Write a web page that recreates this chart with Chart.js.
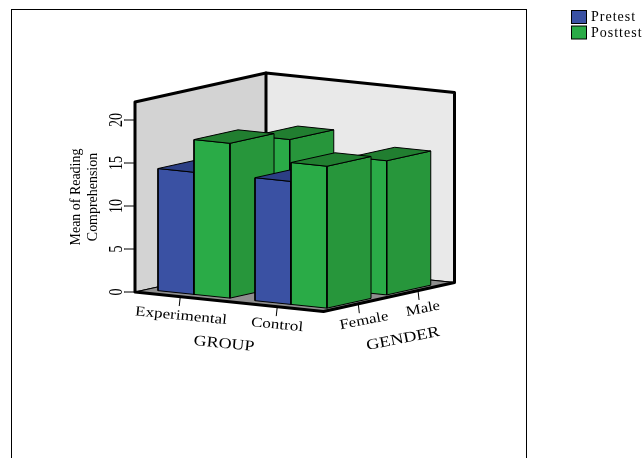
<!DOCTYPE html>
<html>
<head>
<meta charset="utf-8">
<style>
html, body { margin: 0; padding: 0; background: #fff; overflow: hidden; }
canvas { display: block; }
</style>
<script src="https://cdn.jsdelivr.net/npm/chart.js@4/dist/chart.umd.js"></script>
</head>
<body>
<canvas id="myChart" width="642" height="458"></canvas>
<script>
// values, index 0 = Experimental, 1 = Control
var groups = ['Experimental', 'Control'];
var genders = ['Female', 'Male'];
var seriesNames = ['Pretest', 'Posttest'];
var pretestFemale = [14.2, 14.3];
var pretestMale = [13.5, 13.5];
var posttestFemale = [18.0, 16.5];
var posttestMale = [16.9, 15.6];
var valueTicks = [0, 5, 10, 15, 20];

var blue = { front: '#3a51a3', side: '#31458c', top: '#2c3f85' };
var green = { front: '#2aab47', side: '#27963b', top: '#217e30' };

// oblique projection of (group, gender, value) on to the page
var origin = [135, 292];
var uDir = [188.5, 19.5];
var vDir = [131, -29];
var pxPerUnit = 8.6;
var wallTop = 22.1;

function project(u, v, h) {
    return {
        x: origin[0] + uDir[0] * u + vDir[0] * v,
        y: origin[1] + uDir[1] * u + vDir[1] * v - pxPerUnit * h
    };
}

var sets = [];
function poly(points, fillColor, lineWidth, lineColor) {
    sets.push({
        data: points.concat([points[0]]),
        showLine: true,
        pointRadius: 0,
        fill: 'shape',
        backgroundColor: fillColor,
        borderColor: lineColor || '#000',
        borderWidth: lineWidth,
        borderJoinStyle: 'round',
        clip: false
    });
}
function line(points, lineWidth) {
    sets.push({
        data: points,
        showLine: true,
        pointRadius: 0,
        fill: false,
        borderColor: '#000',
        borderWidth: lineWidth,
        borderCapStyle: 'round',
        borderJoinStyle: 'round',
        clip: false
    });
}

function bar(u, v, value, colors) {
    var du = 0.191, dv = 0.336;
    poly([project(u, v, 0), project(u + du, v, 0), project(u + du, v, value), project(u, v, value)], colors.front, 1);
    poly([project(u + du, v, 0), project(u + du, v + dv, 0), project(u + du, v + dv, value), project(u + du, v, value)], colors.side, 1);
    poly([project(u, v, value), project(u + du, v, value), project(u + du, v + dv, value), project(u, v + dv, value)], colors.top, 1);
}

// walls and floor
poly([project(0, 0, 0), project(0, 1, 0), project(0, 1, wallTop), project(0, 0, wallTop)], '#d3d3d3', 1);
poly([project(0, 1, 0), project(1, 1, 0), project(1, 1, wallTop), project(0, 1, wallTop)], '#e9e9e9', 1);
poly([project(0, 0, 0), project(1, 0, 0), project(1, 1, 0), project(0, 1, 0)], '#8f8f8f', 1);
line([project(0, 0, 0), project(0, 0, wallTop), project(0, 1, wallTop), project(1, 1, wallTop), project(1, 1, 0), project(1, 0, 0), project(0, 0, 0)], 3);
line([project(0, 1, 0), project(0, 1, wallTop)], 3);

// bars back row first so the nearer ones cover them
var rows = [[pretestMale, posttestMale, 0.5435], [pretestFemale, posttestFemale, 0.0875]];
rows.forEach(function (row) {
    groups.forEach(function (g, i) {
        var u = 0.0612 + i * 0.5146;
        bar(u, row[2], row[0][i], blue);
        bar(u + 0.191, row[2], row[1][i], green);
    });
});

// tick marks
valueTicks.forEach(function (t) {
    var p = project(0, 0, t);
    line([{ x: p.x - 11, y: p.y }, p], 1);
});
groups.forEach(function (g, i) {
    var p = project(0.0612 + i * 0.5146 + 0.179, 0, 0);
    line([p, { x: p.x - 1, y: p.y + 9 }], 1);
});
genders.forEach(function (g, i) {
    var p = project(1, 0.0875 + i * 0.456 + 0.178, 0);
    line([p, { x: p.x + 1, y: p.y + 9 }], 1);
});

function label(ctx, text, x, y, angle, size, sx) {
    ctx.save();
    ctx.translate(x, y);
    ctx.rotate(angle * Math.PI / 180);
    ctx.scale(sx || 1, 1);
    ctx.font = size + 'px "Liberation Serif"';
    ctx.fillStyle = '#000';
    ctx.textAlign = 'center';
    ctx.textBaseline = 'middle';
    ctx.fillText(text, 0, 0);
    ctx.restore();
}

var textPlugin = {
    id: 'textPlugin',
    afterDraw: function (chart) {
        var ctx = chart.ctx;
        // frame round the chart
        ctx.strokeStyle = '#000';
        ctx.lineWidth = 1;
        ctx.strokeRect(11.5, 9.5, 515, 460);

        valueTicks.forEach(function (t) {
            var p = project(0, 0, t);
            label(ctx, String(t), 117.5, p.y, -90, 19, 0.74);
        });
        label(ctx, 'Mean of Reading', 76, 197, -90, 15, 0.93);
        label(ctx, 'Comprehension', 93, 197, -90, 15, 0.93);

        label(ctx, groups[0], 181, 316, 5.5, 14, 1.22);
        label(ctx, groups[1], 277, 325, 5.5, 14, 1.22);
        label(ctx, 'GROUP', 224, 344, 5.5, 15, 1.2);
        label(ctx, genders[0], 364, 321, -11, 14, 1.2);
        label(ctx, genders[1], 423, 309, -11, 14, 1.2);
        label(ctx, 'GENDER', 403, 339, -11, 15, 1.22);

        // legend
        [blue, green].forEach(function (c, i) {
            var y = 10.5 + i * 15.5;
            ctx.fillStyle = c.front;
            ctx.strokeStyle = '#000';
            ctx.fillRect(571.5, y, 15, 13);
            ctx.strokeRect(571.5, y, 15, 13);
            ctx.fillStyle = '#000';
            ctx.font = '14px "Liberation Serif"';
            ctx.textAlign = 'left';
            ctx.textBaseline = 'middle';
            ctx.letterSpacing = '1px';
            ctx.fillText(seriesNames[i], 591, y + 7);
            ctx.letterSpacing = '0px';
        });
    }
};

// chart.js paints the first dataset last, so turn the paint list round
var currentChart = new Chart(document.getElementById('myChart'), {
    type: 'scatter',
    data: { datasets: sets.slice().reverse() },
    options: {
        responsive: false,
        animation: false,
        layout: { padding: 0 },
        plugins: { legend: { display: false }, tooltip: { enabled: false } },
        scales: {
            x: { type: 'linear', display: false, min: 0, max: 642 },
            y: { type: 'linear', display: false, min: 0, max: 458, reverse: true }
        }
    },
    plugins: [textPlugin]
});
</script>
</body>
</html>
